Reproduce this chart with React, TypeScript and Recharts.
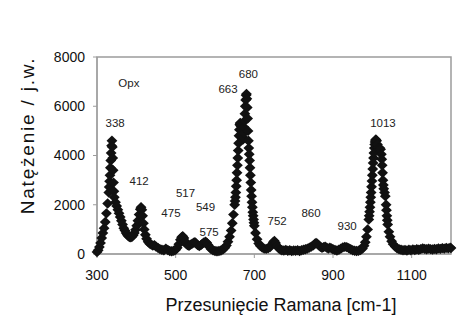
import React from 'react';
import { ScatterChart, Scatter, XAxis, YAxis, ReferenceArea } from 'recharts';

const ramanShift = [
  300, 303, 306, 309, 312, 315, 318, 321, 324, 327, 330, 331, 332, 333, 334, 335, 336, 337, 338, 339,
  340, 341, 342, 343, 344, 347, 350, 353, 356, 359, 362, 365, 368, 371, 374, 377, 380, 383, 386, 389,
  392, 395, 398, 401, 404, 407, 410, 412, 414, 416, 418, 420, 423, 426, 430, 434, 438, 442, 446, 450,
  455, 460, 465, 470, 475, 480, 485, 490, 495, 500, 504, 508, 512, 515, 518, 521, 524, 527, 530, 534,
  538, 542, 546, 549, 552, 556, 560, 564, 568, 572, 576, 579, 582, 586, 590, 595, 600, 605, 610, 615,
  620, 625, 629, 633, 637, 641, 644, 647, 650, 651, 652, 653, 654, 655, 656, 657, 658, 659, 660, 661,
  662, 663, 664, 665, 666, 667, 668, 669, 670, 671, 672, 673, 674, 675, 676, 677, 678, 679, 680, 681,
  682, 683, 684, 685, 686, 687, 688, 689, 690, 691, 692, 693, 694, 695, 696, 697, 698, 699, 700, 703,
  707, 711, 715, 720, 725, 730, 735, 740, 744, 748, 751, 754, 758, 762, 766, 770, 775, 780, 785, 790,
  795, 800, 805, 810, 815, 820, 825, 830, 835, 840, 845, 850, 854, 857, 860, 864, 868, 872, 876, 880,
  884, 888, 892, 896, 900, 905, 910, 915, 920, 925, 930, 935, 940, 945, 950, 955, 960, 965, 970, 975,
  979, 982, 985, 988, 991, 992, 993, 994, 995, 996, 997, 998, 999, 1000, 1001, 1002, 1003, 1004, 1005, 1006,
  1007, 1008, 1009, 1011, 1013, 1015, 1017, 1019, 1021, 1023, 1024, 1025, 1026, 1027, 1028, 1029, 1031, 1033, 1035, 1036,
  1037, 1038, 1039, 1042, 1045, 1049, 1053, 1058, 1063, 1068, 1073, 1078, 1083, 1088, 1093, 1098, 1103, 1108, 1113, 1118,
  1123, 1128, 1133, 1138, 1143, 1148, 1153, 1158, 1163, 1168, 1173, 1178, 1183, 1188, 1193, 1198, 1200,
];

const intensity = [
  80, 150, 280, 450, 650, 850, 1050, 1300, 1650, 2050, 2500, 2720, 2950, 3200, 3500, 3800, 4100, 4400, 4600, 4350,
  3900, 3400, 2900, 2550, 2300, 2100, 1950, 1800, 1650, 1500, 1350, 1200, 1050, 950, 850, 780, 720, 690, 680, 700,
  760, 850, 980, 1150, 1350, 1600, 1820, 1900, 1800, 1550, 1250, 1000, 780, 620, 500, 420, 380, 340, 360, 300,
  250, 200, 170, 150, 220, 160, 120, 110, 130, 170, 250, 400, 580, 680, 720, 650, 520, 420, 360, 330,
  380, 420, 460, 480, 430, 360, 320, 360, 420, 470, 500, 460, 380, 280, 200, 150, 120, 110, 120, 140,
  180, 250, 350, 500, 700, 950, 1250, 1600, 2000, 2150, 2300, 2500, 2750, 3000, 3300, 3600, 3900, 4200, 4500, 4800,
  5050, 5250, 5320, 5300, 5200, 5050, 4900, 4750, 4680, 4650, 4720, 4900, 5150, 5400, 5700, 6000, 6250, 6450, 6500, 6300,
  5950, 5500, 5000, 4600, 4300, 4050, 3800, 3500, 3200, 2900, 2600, 2350, 2100, 1900, 1700, 1550, 1400, 1270, 1150, 850,
  600, 430, 330, 260, 220, 210, 230, 280, 380, 480, 530, 450, 320, 230, 180, 150, 140, 160, 130, 150,
  120, 140, 130, 150, 120, 150, 170, 190, 220, 260, 300, 350, 420, 450, 420, 350, 290, 250, 280, 300,
  260, 220, 260, 230, 190, 160, 140, 170, 220, 270, 290, 280, 240, 190, 150, 130, 120, 130, 160, 220,
  330, 480, 700, 1000, 1400, 1550, 1720, 1900, 2100, 2300, 2500, 2730, 2960, 3200, 3450, 3700, 3900, 4100, 4300, 4450,
  4550, 4620, 4650, 4600, 4450, 4300, 4250, 4300, 4250, 4050, 3850, 3600, 3300, 3000, 2800, 2650, 2500, 2350, 2000, 1780,
  1550, 1370, 1200, 900, 700, 520, 400, 300, 230, 190, 170, 150, 160, 140, 170, 150, 180, 160, 190, 170,
  200, 230, 210, 190, 220, 200, 180, 210, 190, 230, 210, 240, 220, 250, 230, 260, 240,
];

const peakLabels = ['Opx', '338', '412', '475', '517', '549', '575', '663', '680', '752', '860', '930', '1013'];
const peakLabelX = [381, 346, 407, 488, 525, 576, 585, 633, 685, 758, 844, 936, 1027];
const peakLabelY = [6940, 5340, 2970, 1690, 2500, 1910, 890, 6700, 7310, 1340, 1690, 1140, 5340];

const xTicks = [300, 500, 700, 900, 1100];
const yTicks = [0, 2000, 4000, 6000, 8000];

const spectrum = ramanShift.map((x, i) => ({ x, y: intensity[i] }));
const labelPoints = peakLabels.map((label, i) => ({ x: peakLabelX[i], y: peakLabelY[i], label }));

const FONT = "Arial, 'Liberation Sans', Helvetica, sans-serif";

const Diamond = (props: any) => {
  const { cx, cy } = props;
  if (cx == null || cy == null) return null;
  const w = 5.4;
  const h = 5.2;
  return <path d={`M${cx},${cy - h}L${cx + w},${cy}L${cx},${cy + h}L${cx - w},${cy}Z`} fill="#111" />;
};

const PeakText = (props: any) => {
  const { cx, cy, payload } = props;
  if (cx == null || cy == null) return null;
  return (
    <text x={cx} y={cy} dy="0.36em" textAnchor="middle" fontSize={11.5} fill="#222" fontFamily={FONT}>
      {payload?.label}
    </text>
  );
};

export default function App() {
  return (
    <div style={{ position: 'relative', width: 470, height: 329, margin: '-8px 0 0 -8px', background: '#fff', overflow: 'hidden' }}>
      <ScatterChart width={470} height={329} margin={{ top: 57, right: 19, bottom: 0, left: 0 }}>
        <ReferenceArea
          x1={71}
          x2={1400}
          y1={-4000}
          y2={10150}
          fill="none"
          stroke="#a2a2a2"
          strokeWidth={2}
          ifOverflow="visible"
        />
        <ReferenceArea
          x1={300}
          x2={1200}
          y1={0}
          y2={8000}
          fill="none"
          stroke="#9c9c9c"
          strokeWidth={1.5}
          ifOverflow="visible"
        />
        <XAxis
          type="number"
          dataKey="x"
          domain={[300, 1200]}
          ticks={xTicks}
          height={75}
          stroke="#9c9c9c"
          tickSize={4}
          tickMargin={12}
          tick={{ fill: '#111', fontSize: 14, fontFamily: FONT }}
          label={{
            value: 'Przesunięcie Ramana [cm-1]',
            position: 'center',
            dx: 7,
            dy: 13,
            fontSize: 18,
            fill: '#111',
            fontFamily: FONT,
          }}
        />
        <YAxis
          type="number"
          dataKey="y"
          domain={[0, 8000]}
          ticks={yTicks}
          width={97}
          stroke="#9c9c9c"
          tickSize={4}
          tickMargin={8}
          tick={{ fill: '#111', fontSize: 14, fontFamily: FONT }}
          label={{
            value: 'Natężenie / j.w.',
            position: 'center',
            angle: -90,
            dx: -21,
            dy: -20,
            fontSize: 19,
            fill: '#111',
            fontFamily: FONT,
            style: { letterSpacing: '1.8px' },
          }}
        />
        <Scatter data={spectrum} shape={<Diamond />} isAnimationActive={false} />
        <Scatter data={labelPoints} shape={<PeakText />} isAnimationActive={false} />
      </ScatterChart>
    </div>
  );
}
